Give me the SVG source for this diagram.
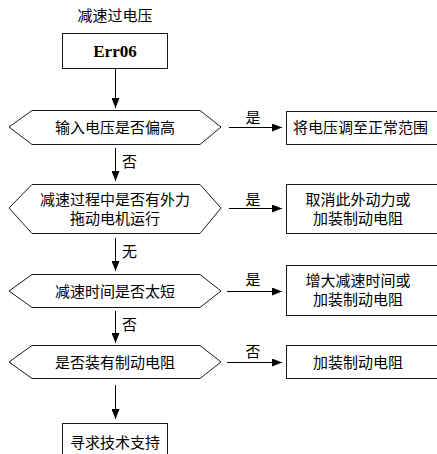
<svg xmlns="http://www.w3.org/2000/svg" width="437" height="454" viewBox="0 0 437 454">
  <style>
    .shape { fill: #ffffff; stroke: #1a1a1a; stroke-width: 1; }
    .link { fill: none; stroke: #000000; stroke-width: 1; }
    .txt { font-family: "Liberation Sans", "Noto Sans CJK SC", sans-serif; font-size: 15px; fill: #000000; }
    .mid { text-anchor: middle; }
    .code { font-family: "Liberation Serif", serif; font-size: 17px; font-weight: bold; fill: #000000; text-anchor: middle; }
  </style>
  <defs>
    <marker id="head" markerWidth="10" markerHeight="8" refX="10" refY="4" orient="auto" markerUnits="userSpaceOnUse">
      <path d="M0,0 L10,4 L0,8 Z" fill="#000000"/>
    </marker>
  </defs>
  <rect width="437" height="454" fill="#ffffff"/>

  <!-- heading -->
  <text class="txt mid" x="115" y="21">减速过电压</text>

  <g id="err06">
    <rect class="shape" x="62.5" y="33.5" width="105" height="35"/>
    <text class="code" x="115" y="57">Err06</text>
  </g>

  <g id="q-input-voltage">
    <polygon class="shape" points="9,127 32,110.5 200,110.5 221,127 200,144.5 32,144.5"/>
    <text class="txt mid" x="115" y="132.5">输入电压是否偏高</text>
  </g>
  <g id="fix-input-voltage">
    <rect class="shape" x="286.5" y="111.5" width="160" height="33"/>
    <text class="txt" x="293" y="133">将电压调至正常范围</text>
  </g>

  <g id="q-external-force">
    <polygon class="shape" points="9,208 32,184.5 200,184.5 221,208 200,233.5 32,233.5"/>
    <text class="txt mid" x="115" y="205">减速过程中是否有外力</text>
    <text class="txt mid" x="115" y="224">拖动电机运行</text>
  </g>
  <g id="fix-external-force">
    <rect class="shape" x="286.5" y="184.5" width="160" height="49"/>
    <text class="txt mid" x="358" y="205">取消此外动力或</text>
    <text class="txt mid" x="358" y="224">加装制动电阻</text>
  </g>

  <g id="q-decel-time">
    <polygon class="shape" points="9,291 32,274.5 200,274.5 221,291 200,307.5 32,307.5"/>
    <text class="txt mid" x="115" y="296.5">减速时间是否太短</text>
  </g>
  <g id="fix-decel-time">
    <rect class="shape" x="286.5" y="265.5" width="160" height="50"/>
    <text class="txt mid" x="358" y="286">增大减速时间或</text>
    <text class="txt mid" x="358" y="305">加装制动电阻</text>
  </g>

  <g id="q-brake-resistor">
    <polygon class="shape" points="9,362 32,345.5 200,345.5 221,362 200,378.5 32,378.5"/>
    <text class="txt mid" x="115" y="367.5">是否装有制动电阻</text>
  </g>
  <g id="fix-brake-resistor">
    <rect class="shape" x="286.5" y="345.5" width="160" height="33"/>
    <text class="txt mid" x="358" y="367.5">加装制动电阻</text>
  </g>

  <g id="support">
    <rect class="shape" x="62.5" y="423.5" width="105" height="40"/>
    <text class="txt mid" x="115" y="447.5">寻求技术支持</text>
  </g>

  <g id="connectors">
    <line class="link" x1="115.5" y1="69" x2="115.5" y2="108" marker-end="url(#head)"/>

    <line class="link" x1="229" y1="127.5" x2="282" y2="127.5" marker-end="url(#head)"/>
    <text class="txt mid" x="253" y="123">是</text>
    <line class="link" x1="115.5" y1="148" x2="115.5" y2="181" marker-end="url(#head)"/>
    <text class="txt" x="122" y="167">否</text>

    <line class="link" x1="229" y1="208.5" x2="282" y2="208.5" marker-end="url(#head)"/>
    <text class="txt mid" x="253" y="205">是</text>
    <line class="link" x1="115.5" y1="238" x2="115.5" y2="271" marker-end="url(#head)"/>
    <text class="txt" x="122" y="257">无</text>

    <line class="link" x1="227" y1="291.5" x2="282" y2="291.5" marker-end="url(#head)"/>
    <text class="txt mid" x="253" y="285">是</text>
    <line class="link" x1="115.5" y1="311" x2="115.5" y2="343" marker-end="url(#head)"/>
    <text class="txt" x="122" y="330">否</text>

    <line class="link" x1="227" y1="362.5" x2="282" y2="362.5" marker-end="url(#head)"/>
    <text class="txt mid" x="253" y="357">否</text>
    <line class="link" x1="115.5" y1="385" x2="115.5" y2="419" marker-end="url(#head)"/>
  </g>
</svg>
